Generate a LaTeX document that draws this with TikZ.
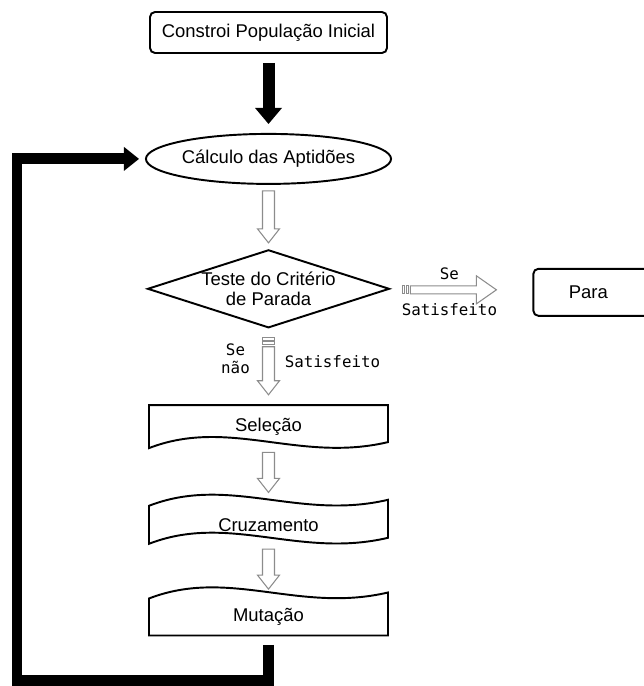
\documentclass[tikz,border=0pt]{standalone}
\usepackage{fontspec}
\setmainfont{Liberation Sans}
\newfontfamily\labelfont{DejaVu Sans Mono}
\usepackage{tikz}
\usetikzlibrary{shapes.geometric,arrows.meta,positioning,calc}
\definecolor{arrgray}{RGB}{140,140,140}

% hollow block arrows, from tail #1 to tip #2
\newcommand{\blockdown}[2]{%
  \draw[hollow] ($(#1)+(-6,0)$) -- ($(#2)+(-6,-14)$) -- ($(#2)+(-11,-14)$)
    -- (#2) -- ($(#2)+(11,-14)$) -- ($(#2)+(6,-14)$) -- ($(#1)+(6,0)$) -- cycle;}
\newcommand{\blockright}[2]{%
  \draw[hollow] ($(#1)+(0,-4)$) -- ($(#2)+(-20,-4)$) -- ($(#2)+(-20,-14)$)
    -- (#2) -- ($(#2)+(-20,14)$) -- ($(#2)+(-20,4)$) -- ($(#1)+(0,4)$) -- cycle;}
% wavy edges of the process boxes (local coordinates)
\newcommand{\wavelr}[1]{(-119.5,#1) .. controls (-39.5,#1-31) and (30.5,#1+15) .. (119.5,#1-6)}
\newcommand{\waverl}[1]{(119.5,#1-6) .. controls (30.5,#1+15) and (-39.5,#1-31) .. (-119.5,#1)}

\begin{document}
\begin{tikzpicture}[x=0.02cm, y=-0.02cm,
  font=\fontsize{10.5}{12.5}\selectfont,
  initbox/.style={rectangle, rounded corners=0.1cm, draw, line width=1.1pt,
                  minimum width=4.74cm, minimum height=0.82cm},
  evalbox/.style={ellipse, draw, line width=1.1pt, inner sep=0pt,
                  minimum width=4.76cm, minimum height=1cm},
  testbox/.style={diamond, draw, line width=1.1pt, inner sep=0pt,
                  minimum width=4.84cm, minimum height=1.56cm},
  stopbox/.style={rectangle, rounded corners=0.1cm, draw, line width=1.1pt,
                  minimum width=2.6cm, minimum height=0.94cm},
  opbox/.style={inner sep=0pt, minimum width=4.78cm},
  outline/.style={line width=1.1pt, line join=miter},
  hollow/.style={draw=arrgray, fill=white, line width=0.6pt, line join=miter},
  bigarr/.style={-{Triangle[length=0.32cm, width=0.54cm, line width=0pt]},
                 line width=0.24cm},
  lbl/.style={font=\labelfont\fontsize{9}{10.5}\selectfont, align=center}
]
  \useasboundingbox (0,0) rectangle (644,686);

  \node[initbox](init) at (268.5,32.5){Constroi População Inicial};
  \node[evalbox, below=1.58cm of init](eval){Cálculo das Aptidões};
  \node[testbox, below=1.28cm of eval,
        label={[align=center, font=\fontsize{10.5}{11.5}\selectfont]center:Teste do Critério\\de Parada}](test){};
  \node[stopbox, right=2.84cm of test, yshift=-0.07cm,
        label={[xshift=-0.2cm]center:Para}](stop){};
  \node[opbox, minimum height=0.86cm, below=1.52cm of test](sel){Seleção};
  \node[opbox, minimum height=0.76cm, below=1.14cm of sel](cru){Cruzamento};
  \node[opbox, minimum height=0.74cm, below=1.08cm of cru](mut){Mutação};

  % outlines of the process boxes
  \draw[outline, shift={(sel.center)}] (-119.5,-21.5) -- (119.5,-21.5)
    -- \waverl{21.5} -- cycle;
  \draw[outline, shift={(cru.center)}] \wavelr{-19} -- \waverl{19} -- cycle;
  \draw[outline, shift={(mut.center)}] \wavelr{-18.5} -- (119.5,18.5)
    -- (-119.5,18.5) -- cycle;

  % black arrows
  \draw[bigarr]($(init.south)+(0,9)$)--($(eval.north)+(0,-9)$);
  \coordinate (loopbl) at (17,680);
  \draw[bigarr, line width=0.22cm,
        -{Triangle[length=0.3cm, width=0.48cm, line width=0pt]}]
    ($(mut.south)+(0,9)$) |- (loopbl) |- ($(eval.west)+(-6,0)$);

  % hollow arrows
  \coordinate (a1) at ($(eval.south)+(0,6)$);
  \coordinate (b1) at ($(test.north)+(0,-6)$);
  \blockdown{a1}{b1}
  \coordinate (a2) at ($(test.south)+(0,18)$);
  \coordinate (b2) at ($(sel.north)+(0,-10)$);
  \blockdown{a2}{b2}
  \draw[hollow] ($(a2)+(-6,-9)$) rectangle ($(a2)+(6,-6.5)$);
  \draw[hollow] ($(a2)+(-6,-5)$) rectangle ($(a2)+(6,-2)$);
  \coordinate (a3) at ($(sel.south)+(0,4)$);
  \coordinate (b3) at ($(cru.north)+(0,-13)$);
  \blockdown{a3}{b3}
  \coordinate (a4) at ($(cru.south)+(0,5)$);
  \coordinate (b4) at ($(mut.north)+(0,-9)$);
  \blockdown{a4}{b4}
  \coordinate (a5) at ($(test.east)+(20,1)$);
  \coordinate (b5) at ($(a5 -| stop.west)+(-36,0)$);
  \blockright{a5}{b5}
  \draw[hollow] ($(a5)+(-8,-4)$) rectangle ($(a5)+(-5.5,4)$);
  \draw[hollow] ($(a5)+(-4,-4)$) rectangle ($(a5)+(-1.5,4)$);

  % labels
  \node[lbl] at ($(a5)!0.5!(b5)+(-4,-16)$){Se};
  \node[lbl] at ($(a5)!0.5!(b5)+(-4,20)$){Satisfeito};
  \node[lbl] at ($(a2)+(-33,12)$){Se\\não};
  \node[lbl] at ($(a2)+(64,15)$){Satisfeito};
\end{tikzpicture}
\end{document}
